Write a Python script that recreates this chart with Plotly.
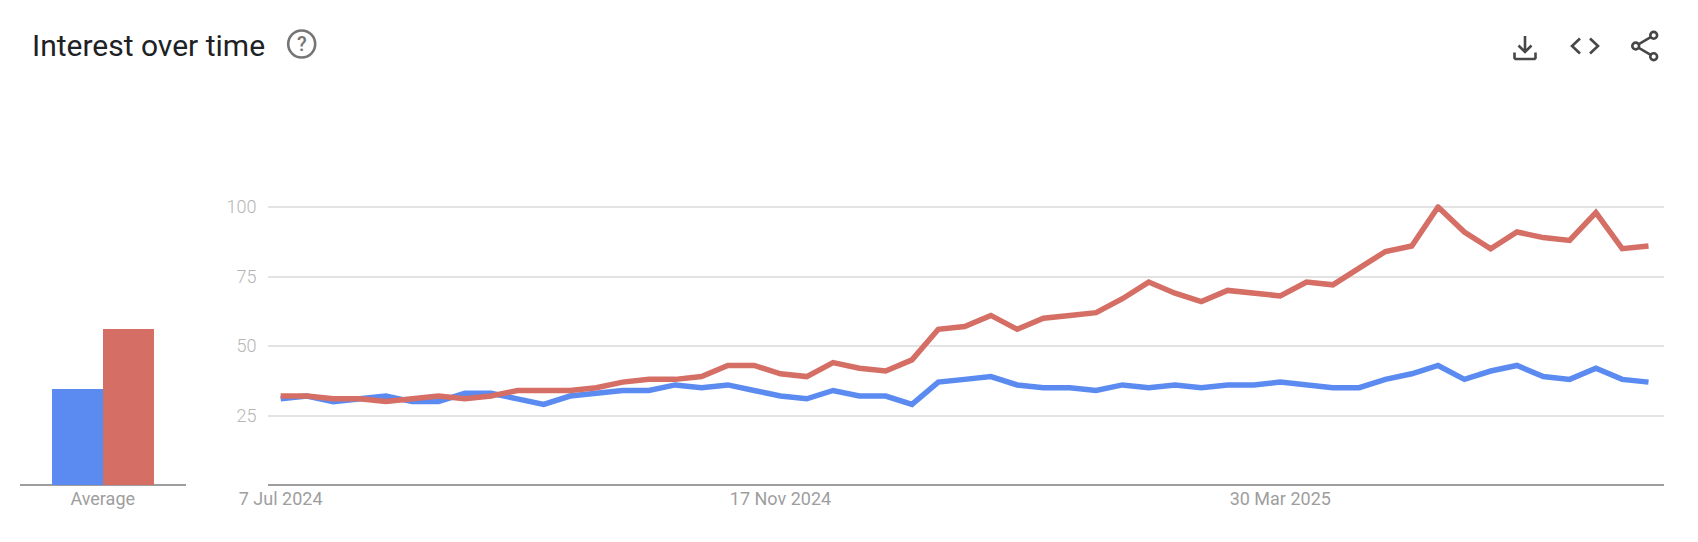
import pandas as pd
import plotly.graph_objects as go

WIDTH, HEIGHT = 1698, 542

start_date = "2024-07-07"
blue_values = [31, 32, 30, 31, 32, 30, 30, 33, 33, 31, 29, 32, 33, 34, 34, 36, 35, 36, 34, 32,
               31, 34, 32, 32, 29, 37, 38, 39, 36, 35, 35, 34, 36, 35, 36, 35, 36, 36, 37, 36,
               35, 35, 38, 40, 43, 38, 41, 43, 39, 38, 42, 38, 37]
red_values = [32, 32, 31, 31, 30, 31, 32, 31, 32, 34, 34, 34, 35, 37, 38, 38, 39, 43, 43, 40,
              39, 44, 42, 41, 45, 56, 57, 61, 56, 60, 61, 62, 67, 73, 69, 66, 70, 69, 68, 73,
              72, 78, 84, 86, 100, 91, 85, 91, 89, 88, 98, 85, 86]
average_values = [34.6, 56]
y_ticks = [25, 50, 75, 100]
x_tick_dates = ["2024-07-07", "2024-11-17", "2025-03-30"]
x_tick_labels = ["7 Jul 2024", "17 Nov 2024", "30 Mar 2025"]

BLUE = "#5b8bf1"
RED = "#d56e64"
GRID = "#e3e3e3"
BASE = "#9e9e9e"
ICON = "#474747"
FONT = "Roboto, sans-serif"
Y_MAX = 101


def px(x):
    return x / WIDTH


def py(y):
    return 1 - y / HEIGHT


def path(*segments):
    """Build an SVG path in paper coordinates from pixel point lists."""
    parts = []
    for seg in segments:
        parts.append("M " + " L ".join(f"{px(x):.5f},{py(y):.5f}" for x, y in seg))
    return " ".join(parts)


dates = pd.date_range(start_date, periods=len(blue_values), freq="7D")

# Time axis spans half a week or so either side of the weekly points
week = pd.Timedelta(days=7)
range_start = dates[0] - 0.5 * week
range_end = dates[-1] + 0.57 * week

fig = go.Figure()
fig.add_trace(go.Bar(x=[0], y=[average_values[0]], width=1, marker=dict(color=BLUE, line_width=0),
                     xaxis="x2", yaxis="y2", name="Term 1", showlegend=False))
fig.add_trace(go.Bar(x=[1], y=[average_values[1]], width=1, marker=dict(color=RED, line_width=0),
                     xaxis="x2", yaxis="y2", name="Term 2", showlegend=False))
fig.add_trace(go.Scatter(x=dates, y=blue_values, mode="lines",
                         line=dict(color=BLUE, width=5.5, shape="linear"),
                         name="Term 1", showlegend=False))
fig.add_trace(go.Scatter(x=dates, y=red_values, mode="lines",
                         line=dict(color=RED, width=5.5, shape="linear"),
                         name="Term 2", showlegend=False))

y_domain = [py(485), py(485 - Y_MAX * 2.78)]

shapes = [
    # help icon ring
    dict(type="circle", xref="paper", yref="paper",
         x0=px(288.2), x1=px(315.2), y0=py(57.5), y1=py(30.5),
         line=dict(color="#757575", width=2.6)),
    # download icon
    dict(type="path", xref="paper", yref="paper",
         path=path([(1525, 36), (1525, 52)], [(1518.5, 45.5), (1525, 52), (1531.5, 45.5)],
                   [(1514.5, 52.5), (1514.5, 58), (1515.5, 59), (1534.5, 59), (1535.5, 58), (1535.5, 52.5)]),
         line=dict(color=ICON, width=2.6)),
    # embed icon
    dict(type="path", xref="paper", yref="paper",
         path=path([(1580, 38.5), (1572, 46), (1580, 53.5)], [(1590, 38.5), (1598, 46), (1590, 53.5)]),
         line=dict(color=ICON, width=2.6)),
    # share icon
    dict(type="path", xref="paper", yref="paper",
         path=path([(1653.7, 35.3), (1635.7, 46), (1653.7, 56.7)]),
         line=dict(color=ICON, width=2.6)),
]
for cx, cy in [(1635.7, 46), (1653.7, 35.3), (1653.7, 56.7)]:
    shapes.append(dict(type="circle", xref="paper", yref="paper",
                       x0=px(cx - 3.4), x1=px(cx + 3.4), y0=py(cy + 3.4), y1=py(cy - 3.4),
                       fillcolor="white", line=dict(color=ICON, width=2.6)))

annotations = [
    dict(text="Interest over time", xref="paper", yref="paper", x=px(30), y=py(45.5),
         xanchor="left", yanchor="middle", showarrow=False,
         font=dict(family=FONT, size=30, color="#202124")),
    dict(text="?", xref="paper", yref="paper", x=px(301.7), y=py(44),
         xanchor="center", yanchor="middle", showarrow=False,
         font=dict(family=FONT, size=20, color="#757575", weight=500)),
]

fig.update_layout(
    width=WIDTH, height=HEIGHT, autosize=False,
    margin=dict(l=0, r=0, t=0, b=0, autoexpand=False),
    paper_bgcolor="white", plot_bgcolor="white",
    barmode="overlay", bargap=0,
    showlegend=False,
    shapes=shapes, annotations=annotations,
    xaxis=dict(
        type="date", domain=[px(267.5), px(1663.5)], range=[range_start, range_end],
        tickmode="array", tickvals=x_tick_dates, ticktext=x_tick_labels, automargin=False,
        showgrid=False, zeroline=False, showline=False, ticklabelstandoff=1,
        ticks="", tickfont=dict(family=FONT, size=18, color="#9e9e9e"),
        anchor="y",
    ),
    yaxis=dict(
        domain=y_domain, range=[0, Y_MAX], tickmode="array", tickvals=y_ticks, automargin=False,
        showgrid=True, gridcolor=GRID, gridwidth=1.5, showline=False,
        zeroline=True, zerolinecolor=BASE, zerolinewidth=1.5, ticklabelstandoff=10,
        ticks="", tickfont=dict(family=FONT, size=18, color="#b5b5b5", weight=300),
        anchor="x",
    ),
    xaxis2=dict(
        domain=[px(19.5), px(186)], range=[-1.13, 2.13], tickmode="array", tickvals=[0.5],
        ticktext=["Average"], showgrid=False, zeroline=False, showline=False, automargin=False,
        ticks="", ticklabelstandoff=1,
        tickfont=dict(family=FONT, size=18, color="#9e9e9e"), anchor="y2",
    ),
    yaxis2=dict(
        domain=y_domain, range=[0, Y_MAX], anchor="x2", automargin=False, showgrid=False,
        showticklabels=False, ticks="", showline=False,
        zeroline=True, zerolinecolor=BASE, zerolinewidth=1.5,
    ),
)

fig.write_html("out.html", config=dict(displayModeBar=False))
